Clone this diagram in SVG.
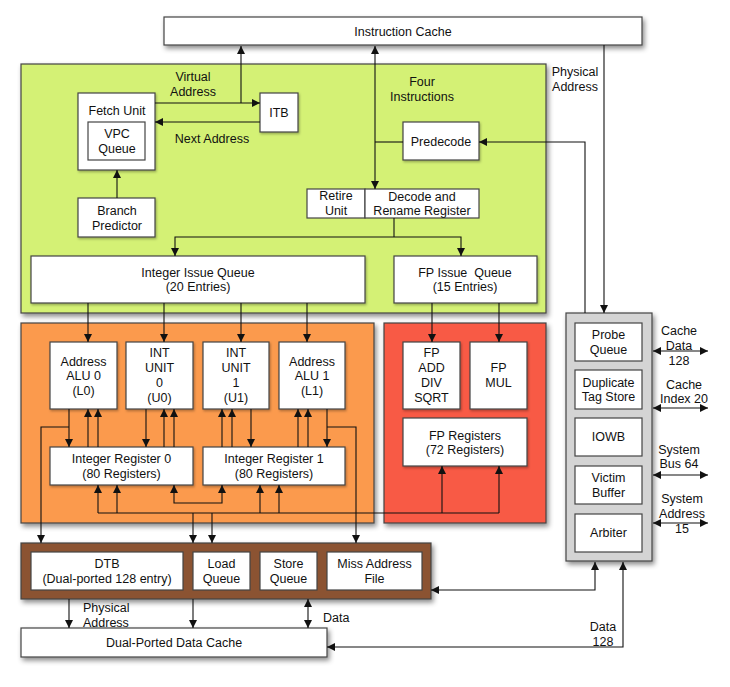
<svg xmlns="http://www.w3.org/2000/svg" width="730" height="687" viewBox="0 0 730 687">
<defs>
<filter id="sh" x="-10%" y="-10%" width="130%" height="140%">
<feDropShadow dx="2" dy="3" stdDeviation="2.5" flood-color="#000" flood-opacity="0.45"/>
</filter>
<filter id="sh2" x="-10%" y="-10%" width="130%" height="140%">
<feDropShadow dx="1" dy="1.5" stdDeviation="1" flood-color="#000" flood-opacity="0.3"/>
</filter>
<marker id="ah" viewBox="0 0 10 10" refX="10" refY="5" markerWidth="9" markerHeight="8" markerUnits="userSpaceOnUse" orient="auto-start-reverse">
<path d="M0,0 L10,5 L0,10 z" fill="#111"/>
</marker>
<style>
text{font-family:"Liberation Sans",Arial,sans-serif;font-size:12.5px;fill:#111;text-anchor:middle}
.st{text-anchor:start}
.reg{stroke:#444;stroke-width:1.2}
.box{fill:#fff;stroke:#444;stroke-width:1.2}
.c{fill:none;stroke:#111;stroke-width:1.1}
.a{marker-end:url(#ah)}
.b{marker-start:url(#ah);marker-end:url(#ah)}
</style>
</defs>

<!-- regions -->
<g id="instruction-cache">
<rect x="164" y="17" width="478" height="28" class="box" filter="url(#sh)"/>
<text x="403" y="36">Instruction Cache</text>
</g>
<g id="fetch-region">
<rect x="21" y="64" width="525" height="249" fill="#d4f174" class="reg" filter="url(#sh)"/>
</g>
<g id="int-exec-region">
<rect x="21" y="323" width="353" height="200" fill="#fb9a4e" class="reg" filter="url(#sh)"/>
</g>
<g id="fp-exec-region">
<rect x="384" y="323" width="162" height="200" fill="#f85a45" class="reg" filter="url(#sh)"/>
</g>
<g id="bus-interface">
<rect x="566" y="313" width="86" height="248" fill="#d4d4d4" class="reg" filter="url(#sh)"/>
</g>
<g id="memory-region">
<rect x="21" y="543" width="410" height="56" fill="#8b5230" class="reg" filter="url(#sh)"/>
</g>
<g id="data-cache">
<rect x="21" y="628" width="306" height="29" class="box" filter="url(#sh)"/>
<text x="174" y="647">Dual-Ported Data Cache</text>
</g>

<!-- fetch nodes -->
<g id="fetch-unit">
<rect x="78" y="93" width="77" height="77" class="box" filter="url(#sh2)"/>
<text x="117" y="115">Fetch Unit</text>
</g>
<g id="vpc-queue">
<rect x="88" y="122" width="57" height="38" class="box"/>
<text x="117" y="138">VPC</text>
<text x="117" y="153">Queue</text>
</g>
<g id="itb">
<rect x="260" y="93" width="38" height="39" class="box" filter="url(#sh2)"/>
<text x="279" y="117">ITB</text>
</g>
<g id="branch-predictor">
<rect x="78" y="198" width="77" height="39" class="box" filter="url(#sh2)"/>
<text x="117" y="215">Branch</text>
<text x="117" y="230">Predictor</text>
</g>
<g id="predecode">
<rect x="403" y="122" width="76" height="38" class="box" filter="url(#sh2)"/>
<text x="441" y="146">Predecode</text>
</g>
<g id="retire-unit">
<rect x="307" y="189" width="58" height="29" class="box"/>
<text x="336" y="200">Retire</text>
<text x="336" y="215">Unit</text>
</g>
<g id="decode-rename">
<rect x="365" y="189" width="114" height="29" class="box"/>
<text x="422" y="201">Decode and</text>
<text x="422" y="215">Rename Register</text>
</g>
<g id="int-issue-queue">
<rect x="31" y="256" width="334" height="47" class="box" filter="url(#sh2)"/>
<text x="198" y="277">Integer Issue Queue</text>
<text x="198" y="291">(20 Entries)</text>
</g>
<g id="fp-issue-queue">
<rect x="394" y="256" width="143" height="47" class="box" filter="url(#sh2)"/>
<text x="465" y="277" xml:space="preserve">FP Issue  Queue</text>
<text x="465" y="291">(15 Entries)</text>
</g>

<!-- integer units -->
<g id="alu0">
<rect x="50" y="342" width="67" height="67" class="box" filter="url(#sh2)"/>
<text x="83.5" y="366">Address</text>
<text x="83.5" y="380">ALU 0</text>
<text x="83.5" y="395">(L0)</text>
</g>
<g id="int-unit0">
<rect x="126" y="342" width="67" height="67" class="box" filter="url(#sh2)"/>
<text x="159.5" y="357">INT</text>
<text x="159.5" y="372">UNIT</text>
<text x="159.5" y="387">0</text>
<text x="159.5" y="402">(U0)</text>
</g>
<g id="int-unit1">
<rect x="203" y="342" width="66" height="67" class="box" filter="url(#sh2)"/>
<text x="236" y="357">INT</text>
<text x="236" y="372">UNIT</text>
<text x="236" y="387">1</text>
<text x="236" y="402">(U1)</text>
</g>
<g id="alu1">
<rect x="279" y="342" width="66" height="67" class="box" filter="url(#sh2)"/>
<text x="312" y="366">Address</text>
<text x="312" y="380">ALU 1</text>
<text x="312" y="395">(L1)</text>
</g>
<g id="int-reg0">
<rect x="50" y="447" width="143" height="38" class="box" filter="url(#sh2)"/>
<text x="121.5" y="463">Integer Register 0</text>
<text x="121.5" y="478">(80 Registers)</text>
</g>
<g id="int-reg1">
<rect x="203" y="447" width="142" height="38" class="box" filter="url(#sh2)"/>
<text x="274" y="463">Integer Register 1</text>
<text x="274" y="478">(80 Registers)</text>
</g>

<!-- fp units -->
<g id="fp-add">
<rect x="403" y="342" width="57" height="67" class="box" filter="url(#sh2)"/>
<text x="431.5" y="357">FP</text>
<text x="431.5" y="372">ADD</text>
<text x="431.5" y="387">DIV</text>
<text x="431.5" y="402">SQRT</text>
</g>
<g id="fp-mul">
<rect x="470" y="342" width="57" height="67" class="box" filter="url(#sh2)"/>
<text x="498.5" y="372">FP</text>
<text x="498.5" y="387">MUL</text>
</g>
<g id="fp-registers">
<rect x="403" y="418" width="124" height="48" class="box" filter="url(#sh2)"/>
<text x="465" y="440">FP Registers</text>
<text x="465" y="454">(72 Registers)</text>
</g>

<!-- bus interface -->
<g id="probe-queue">
<rect x="575" y="323" width="67" height="38" class="box"/>
<text x="608.5" y="339">Probe</text>
<text x="608.5" y="354">Queue</text>
</g>
<g id="duplicate-tag">
<rect x="575" y="370" width="67" height="39" class="box"/>
<text x="608.5" y="387">Duplicate</text>
<text x="608.5" y="401">Tag Store</text>
</g>
<g id="iowb">
<rect x="575" y="418" width="67" height="38" class="box"/>
<text x="608.5" y="441">IOWB</text>
</g>
<g id="victim-buffer">
<rect x="575" y="466" width="67" height="38" class="box"/>
<text x="608.5" y="482">Victim</text>
<text x="608.5" y="497">Buffer</text>
</g>
<g id="arbiter">
<rect x="575" y="514" width="67" height="38" class="box"/>
<text x="608.5" y="537">Arbiter</text>
</g>

<!-- memory units -->
<g id="dtb">
<rect x="31" y="552" width="152" height="38" class="box"/>
<text x="107" y="568">DTB</text>
<text x="107" y="583">(Dual-ported 128 entry)</text>
</g>
<g id="load-queue">
<rect x="193" y="552" width="57" height="38" class="box"/>
<text x="221.5" y="568">Load</text>
<text x="221.5" y="583">Queue</text>
</g>
<g id="store-queue">
<rect x="260" y="552" width="57" height="38" class="box"/>
<text x="288.5" y="568">Store</text>
<text x="288.5" y="583">Queue</text>
</g>
<g id="miss-address-file">
<rect x="327" y="552" width="95" height="38" class="box"/>
<text x="374.5" y="568">Miss Address</text>
<text x="374.5" y="583">File</text>
</g>

<!-- connectors -->
<g id="connectors">
<path class="c a" d="M155,103 H260"/>
<path class="c a" d="M241,103 V46"/>
<path class="c a" d="M260,122 H155"/>
<path class="c a" d="M117,198 V170"/>
<path class="c b" d="M375,46 V189"/>
<path class="c" d="M403,142 H375"/>
<path class="c a" d="M585,313 V142 H479"/>
<path class="c a" d="M604,45 V313"/>
<path class="c" d="M394,218 V237"/>
<path class="c a" d="M394,237 H175 V256"/>
<path class="c a" d="M394,237 H461 V256"/>
<path class="c a" d="M88,303 V342"/>
<path class="c a" d="M164,303 V342"/>
<path class="c a" d="M241,303 V342"/>
<path class="c a" d="M307,303 V342"/>
<path class="c a" d="M432,303 V342"/>
<path class="c a" d="M499,303 V342"/>
<path class="c a" d="M69,409 V447"/>
<path class="c a" d="M88,447 V409"/>
<path class="c a" d="M98,447 V409"/>
<path class="c a" d="M69,427 H41 V543"/>
<path class="c a" d="M146,409 V447"/>
<path class="c a" d="M164,447 V409"/>
<path class="c a" d="M174,447 V409"/>
<path class="c a" d="M222,447 V409"/>
<path class="c a" d="M232,447 V409"/>
<path class="c a" d="M251,409 V447"/>
<path class="c a" d="M298,447 V409"/>
<path class="c a" d="M308,447 V409"/>
<path class="c a" d="M327,409 V447"/>
<path class="c a" d="M327,427 H356 V543"/>
<path class="c" d="M98,513 H499"/>
<path class="c a" d="M98,513 V485"/>
<path class="c a" d="M117,513 V485"/>
<path class="c a" d="M260,513 V485"/>
<path class="c a" d="M279,513 V485"/>
<path class="c a" d="M442,513 V466"/>
<path class="c a" d="M499,513 V466"/>
<path class="c b" d="M174,485 V503 H222 V485"/>
<path class="c a" d="M193,513 V543"/>
<path class="c a" d="M212,513 V543"/>
<path class="c a" d="M69,599 V628"/>
<path class="c a" d="M193,599 V628"/>
<path class="c b" d="M308,599 V628"/>
<path class="c b" d="M595,562 V590 H431"/>
<path class="c b" d="M623,562 V647 H327"/>
<path class="c b" d="M653,351 H708"/>
<path class="c b" d="M653,408 H708"/>
<path class="c b" d="M653,475 H708"/>
<path class="c b" d="M653,523 H708"/>
</g>

<!-- labels -->
<g id="labels">
<text x="193" y="81">Virtual</text>
<text x="193" y="96">Address</text>
<text x="212" y="143">Next Address</text>
<text x="422" y="86">Four</text>
<text x="422" y="101">Instructions</text>
<text x="575" y="76">Physical</text>
<text x="575" y="91">Address</text>
<text x="679" y="335">Cache</text>
<text x="679" y="350">Data</text>
<text x="679" y="365">128</text>
<text x="684" y="389">Cache</text>
<text x="684" y="403">Index 20</text>
<text x="679" y="454">System</text>
<text x="679" y="468">Bus 64</text>
<text x="682" y="503">System</text>
<text x="682" y="518">Address</text>
<text x="682" y="533">15</text>
<text class="st" x="83" y="612">Physical</text>
<text class="st" x="83" y="627">Address</text>
<text class="st" x="323" y="622">Data</text>
<text x="603" y="631">Data</text>
<text x="603" y="646">128</text>
</g>
</svg>
